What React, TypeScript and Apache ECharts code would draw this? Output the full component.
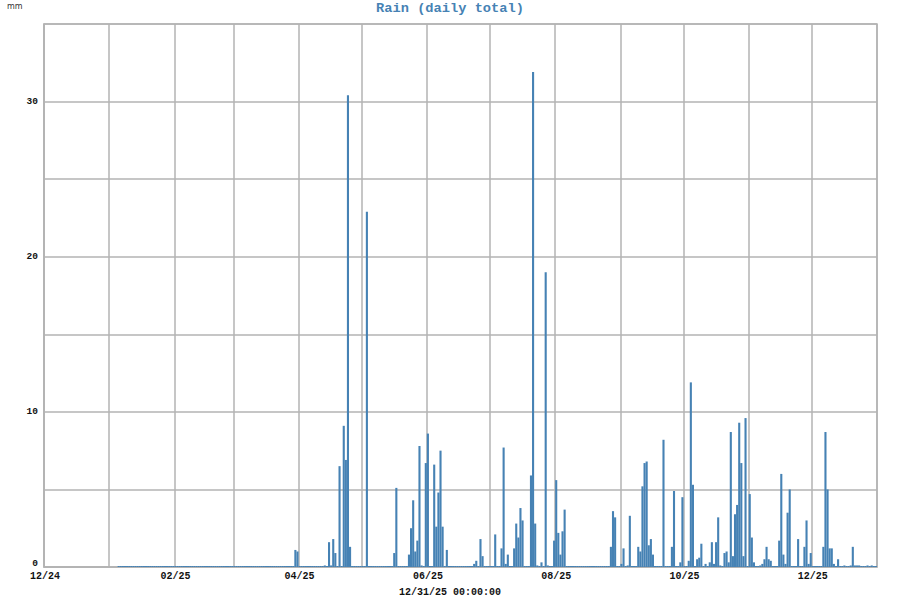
import React, { useEffect, useRef } from "react";
import * as echarts from "echarts";

// Daily rain totals (mm) for the days that had rain; all other days from DATA_START are 0
const rainDays: [string, number][] = [
  ["2025-03-30", 1.1], ["2025-03-31", 1.0],
  ["2025-04-13", 0.1], ["2025-04-15", 1.6], ["2025-04-16", 0.1], ["2025-04-17", 1.8], ["2025-04-18", 0.9],
  ["2025-04-20", 6.5], ["2025-04-22", 9.1], ["2025-04-23", 6.9], ["2025-04-24", 30.4], ["2025-04-25", 1.3],
  ["2025-05-03", 22.9],
  ["2025-05-16", 0.9], ["2025-05-17", 5.1], ["2025-05-23", 0.8], ["2025-05-24", 2.5], ["2025-05-25", 4.3],
  ["2025-05-26", 1.0], ["2025-05-27", 1.7], ["2025-05-28", 7.8], ["2025-05-29", 0.1], ["2025-05-31", 6.7],
  ["2025-06-01", 8.6], ["2025-06-04", 6.6], ["2025-06-05", 2.6], ["2025-06-06", 4.8], ["2025-06-07", 7.5],
  ["2025-06-08", 2.6], ["2025-06-10", 1.1], ["2025-06-23", 0.2], ["2025-06-24", 0.4], ["2025-06-26", 1.8],
  ["2025-06-27", 0.7],
  ["2025-07-03", 2.1], ["2025-07-06", 1.2], ["2025-07-07", 7.7], ["2025-07-08", 0.2], ["2025-07-09", 0.8],
  ["2025-07-12", 1.2], ["2025-07-13", 2.8], ["2025-07-14", 1.9], ["2025-07-15", 3.8], ["2025-07-16", 3.0],
  ["2025-07-20", 5.9], ["2025-07-21", 31.9], ["2025-07-22", 2.8], ["2025-07-23", 0.1], ["2025-07-25", 0.3],
  ["2025-07-27", 19.0], ["2025-07-28", 0.1], ["2025-07-31", 1.7],
  ["2025-08-01", 5.6], ["2025-08-02", 2.2], ["2025-08-03", 0.8], ["2025-08-04", 2.3], ["2025-08-05", 3.7],
  ["2025-08-27", 1.3], ["2025-08-28", 3.6], ["2025-08-29", 3.2],
  ["2025-09-01", 0.2], ["2025-09-02", 1.2], ["2025-09-04", 0.1], ["2025-09-05", 3.3], ["2025-09-09", 1.3],
  ["2025-09-10", 1.0], ["2025-09-11", 5.2], ["2025-09-12", 6.7], ["2025-09-13", 6.8], ["2025-09-14", 1.4],
  ["2025-09-15", 1.8], ["2025-09-16", 0.8], ["2025-09-21", 8.2], ["2025-09-25", 1.3], ["2025-09-26", 4.9],
  ["2025-09-29", 0.3], ["2025-09-30", 4.5],
  ["2025-10-03", 0.4], ["2025-10-04", 11.9], ["2025-10-05", 5.3], ["2025-10-07", 0.5], ["2025-10-08", 0.6],
  ["2025-10-09", 1.5], ["2025-10-11", 0.2], ["2025-10-13", 0.3], ["2025-10-14", 1.6], ["2025-10-15", 0.2],
  ["2025-10-16", 1.6], ["2025-10-17", 3.2], ["2025-10-18", 0.1], ["2025-10-20", 0.9], ["2025-10-21", 1.0],
  ["2025-10-22", 0.3], ["2025-10-23", 8.7], ["2025-10-24", 0.7], ["2025-10-25", 3.4], ["2025-10-26", 4.0],
  ["2025-10-27", 9.3], ["2025-10-28", 6.7], ["2025-10-29", 0.7], ["2025-10-30", 9.6],
  ["2025-11-01", 4.7], ["2025-11-02", 1.9], ["2025-11-03", 0.3], ["2025-11-06", 0.1], ["2025-11-07", 0.2],
  ["2025-11-08", 0.5], ["2025-11-09", 1.3], ["2025-11-10", 0.5], ["2025-11-11", 0.4], ["2025-11-15", 1.7],
  ["2025-11-16", 6.0], ["2025-11-17", 0.8], ["2025-11-18", 0.2], ["2025-11-19", 3.5], ["2025-11-20", 5.0],
  ["2025-11-24", 1.8], ["2025-11-27", 1.3], ["2025-11-28", 3.0], ["2025-11-29", 0.2], ["2025-11-30", 0.9],
  ["2025-12-06", 1.3], ["2025-12-07", 8.7], ["2025-12-08", 5.0], ["2025-12-09", 1.2], ["2025-12-10", 1.2],
  ["2025-12-11", 0.2], ["2025-12-13", 0.5], ["2025-12-16", 0.1], ["2025-12-19", 0.1], ["2025-12-20", 1.3],
  ["2025-12-21", 0.1], ["2025-12-22", 0.1], ["2025-12-23", 0.1], ["2025-12-27", 0.1], ["2025-12-29", 0.1],
];

const AXIS_START_UTC = Date.UTC(2024, 11, 1);
const AXIS_DAYS = 396;
const DATA_START = "2025-01-05";
const yTicks = [0, 10, 20, 30];
const TITLE = "Rain (daily total)";
const UNIT = "mm";
const FOOTER = "12/31/25 00:00:00";

function buildCategories(): string[] {
  const out: string[] = [];
  for (let i = 0; i < AXIS_DAYS; i++) {
    const d = new Date(AXIS_START_UTC + i * 86400000);
    const y = d.getUTCFullYear();
    const m = String(d.getUTCMonth() + 1).padStart(2, "0");
    const dd = String(d.getUTCDate()).padStart(2, "0");
    out.push(`${y}-${m}-${dd}`);
  }
  return out;
}

export default function App() {
  const ref = useRef<HTMLDivElement>(null);
  useEffect(() => {
    if (!ref.current) return;
    const chart = echarts.init(ref.current, undefined, { renderer: "svg" });
    const categories = buildCategories();
    const rainMap = new Map(rainDays);
    const values = categories.map((c) =>
      rainMap.has(c) ? rainMap.get(c)! : c >= DATA_START ? 0 : "-"
    );
    const grid = "#b3b3b3";
    const mono = "Liberation Mono";
    chart.setOption({
      animation: false,
      backgroundColor: "#fff",
      title: {
        text: TITLE,
        left: "center",
        top: 1,
        padding: 0,
        textStyle: { fontFamily: mono, fontWeight: "bold", fontSize: 13.7, color: "#4682b4" },
      },
      grid: {
        left: 44,
        right: 23,
        top: 24,
        bottom: 33,
        show: true,
        borderColor: grid,
        borderWidth: 1.5,
      },
      graphic: [
        {
          type: "text",
          left: 7,
          top: 2,
          style: { text: UNIT, fontFamily: "DejaVu Sans", fontSize: 8, fill: "#333" },
        },
        {
          type: "text",
          left: "center",
          top: 587,
          style: { text: FOOTER, fontFamily: mono, fontSize: 10, fontWeight: "bold", fill: "#111" },
        },
      ],
      xAxis: {
        type: "category",
        data: categories,
        boundaryGap: true,
        axisLine: { lineStyle: { color: grid, width: 1.5 } },
        axisTick: { show: false },
        axisLabel: {
          interval: (_i: number, v: string) => {
            if (!v.endsWith("-01")) return false;
            const m = parseInt(v.slice(5, 7), 10);
            return m % 2 === 0;
          },
          formatter: (v: string) => `${v.slice(5, 7)}/${v.slice(2, 4)}`,
          fontFamily: mono,
          fontWeight: "bold",
          fontSize: 10,
          color: "#111",
          margin: 4,
        },
        splitLine: {
          show: true,
          interval: (_i: number, v: string) => v.endsWith("-01"),
          lineStyle: { color: grid, width: 1.5 },
        },
      },
      yAxis: {
        type: "value",
        min: 0,
        max: 35,
        interval: 5,
        axisLine: { show: true, lineStyle: { color: grid, width: 1.5 } },
        axisTick: { show: false },
        axisLabel: {
          formatter: (v: number) =>
            v === 0 ? "{z|0}" : yTicks.includes(v) ? String(v) : "",
          rich: {
            z: {
              fontFamily: mono,
              fontWeight: "bold",
              fontSize: 9.5,
              color: "#111",
              padding: [0, 0, 8, 0],
            },
          },
          fontFamily: mono,
          fontWeight: "bold",
          fontSize: 9.5,
          color: "#111",
          margin: 6,
        },
        splitLine: { show: true, lineStyle: { color: grid, width: 1.5 } },
      },
      series: [
        {
          type: "bar",
          data: values,
          barCategoryGap: "0%",
          barGap: "0%",
          barMinHeight: 1,
          itemStyle: { color: "#4682b4" },
        },
      ],
    });
    return () => chart.dispose();
  }, []);
  return (
    <div
      ref={ref}
      style={{ position: "fixed", left: 0, top: 0, width: 900, height: 600, background: "#fff" }}
    />
  );
}
